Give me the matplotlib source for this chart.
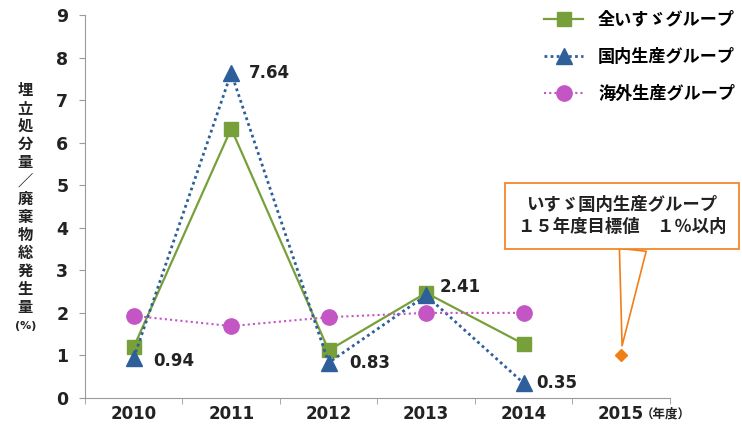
import numpy as np
import matplotlib
matplotlib.use("Agg")
from matplotlib import pyplot as plt

plt.rcParams['font.family'] = ['DejaVu Sans', 'Noto Sans CJK JP']

# data
years = ['2010', '2011', '2012', '2013', '2014', '2015']
all_isuzu = [1.20, 6.33, 1.12, 2.47, 1.27]
domestic = [0.94, 7.64, 0.83, 2.41, 0.35]
overseas = [1.93, 1.69, 1.90, 2.00, 2.00]
target_2015 = 1.0
domestic_labels = ['0.94', '7.64', '0.83', '2.41', '0.35']

green = '#77a03a'
blue = '#2f5f9a'
pink = '#c455c4'
orange = '#f07f17'
gray = '#9a9a9a'
dark = '#222222'

fig = plt.figure(figsize=(7.42, 4.32), dpi=100)
ax = fig.add_axes([0.1146, 0.0787, 0.788, 0.8866])

x = np.arange(len(years))
n = len(all_isuzu)

ax.plot(x[:n], all_isuzu, color=green, lw=1.6, marker='s', ms=9.5,
        label='全いすゞグループ')
ax.plot(x[:n], domestic, color=blue, lw=2, ls=(0, (1, 1.2)), marker='^', ms=11,
        label='国内生産グループ')
ax.plot(x[:n], overseas, color=pink, lw=1.5, ls=(0, (1, 1.5)), marker='o', ms=11,
        label='海外生産グループ')
ax.plot(x[5], target_2015, marker='D', color=orange, ms=6, ls='none')

# value labels for domestic group
offsets = [(14, -2), (13, 0), (15, 0), (10, 6), (9, 0)]
for xi, v, t, off in zip(x, domestic, domestic_labels, offsets):
    ax.annotate(t, (xi, v), xytext=off, textcoords='offset points',
                ha='left', va='center', fontsize=12, fontweight='bold',
                color=dark)

# callout for target
ax.annotate('いすゞ国内生産グループ\n１５年度目標値　１％以内',
            xy=(x[5], target_2015), xycoords='data',
            xytext=(0.918, 0.475), textcoords='axes fraction',
            ha='center', va='center', fontsize=12.5, fontweight='bold',
            color=dark, linespacing=1.3,
            bbox=dict(boxstyle='square,pad=0.75', fc='white', ec=orange, lw=1.2),
            arrowprops=dict(arrowstyle='wedge,tail_width=1.55',
                            fc='white', ec=orange, lw=1.2,
                            relpos=(0.56, 0.0), shrinkA=0, shrinkB=7))

ax.set_xlim(-0.5, 5.5)
ax.set_ylim(0, 9)
ax.set_yticks(range(10))
ax.set_xticks(x)
ax.set_xticklabels(years)
ax.set_xticks(np.arange(-0.5, 6, 1), minor=True)
ax.tick_params(axis='x', which='major', length=0, pad=5, labelsize=12)
ax.tick_params(axis='x', which='minor', length=4, color=gray, direction='out')
ax.tick_params(axis='y', length=4, color=gray, labelsize=12.5, pad=8)
for lab in ax.get_xticklabels() + ax.get_yticklabels():
    lab.set_fontweight('bold')
    lab.set_color(dark)
for s in ['top', 'right']:
    ax.spines[s].set_visible(False)
for s in ['left', 'bottom']:
    ax.spines[s].set_color(gray)

ax.annotate('（年度）', (5, 0), xytext=(14.5, -11.5), textcoords='offset points',
            ha='left', va='center', fontsize=9, fontweight='bold', color=dark)

fig.text(0.034, 0.539, '\n'.join('埋立処分量／廃棄物総発生量'), ha='center', va='center',
         fontsize=11, fontweight='bold', linespacing=1.26, color=dark)
fig.text(0.034, 0.245, '(%)', ha='center', va='center', fontsize=8,
         fontweight='bold', color=dark)

ax.legend(loc='upper left', bbox_to_anchor=(0.759, 1.051), frameon=False,
          handlelength=2.3, labelspacing=1.13, handletextpad=0.86,
          prop={'weight': 'bold', 'size': 12.3})

fig.savefig('out.png', dpi=100)
